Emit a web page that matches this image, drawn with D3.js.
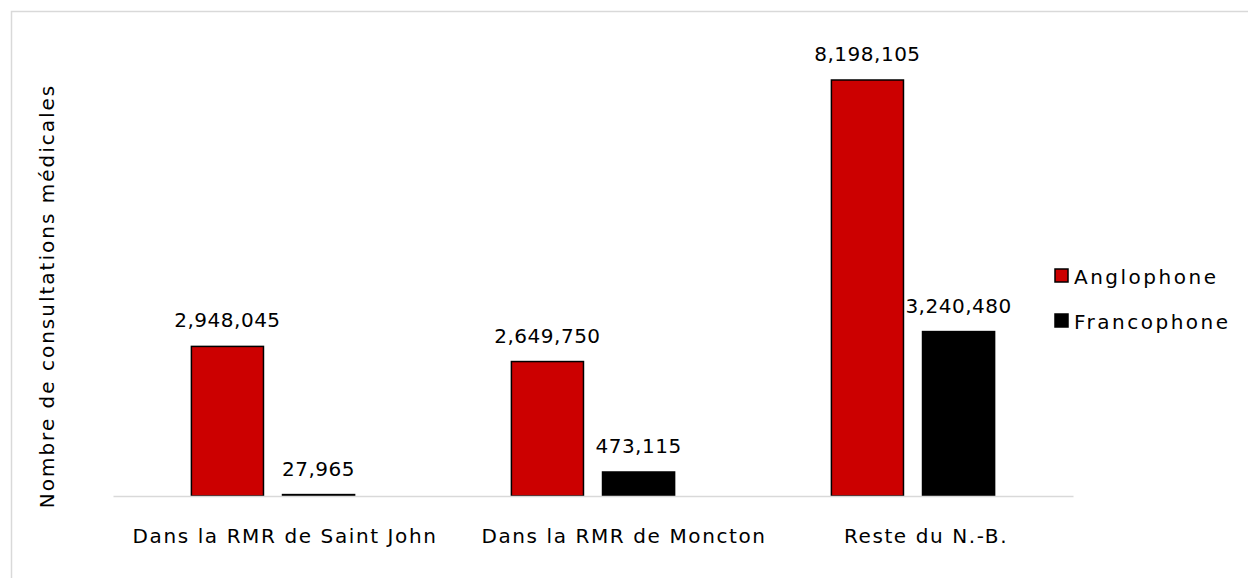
<!DOCTYPE html>
<html>
<head>
<meta charset="utf-8">
<script src="https://cdn.jsdelivr.net/npm/d3@7"></script>
<style>
	body { margin: 0; background: #fff; }
	text { font-family: "DejaVu Sans", sans-serif; fill: #000; }
</style>
</head>
<body>
<div id="wrapper"></div>
<script>
// data
const categories = ["Dans la RMR de Saint John", "Dans la RMR de Moncton", "Reste du N.-B."];
const series = ["Anglophone", "Francophone"];
const anglophone = [2948045, 2649750, 8198105];
const francophone = [27965, 473115, 3240480];
const colors = ["#cc0000", "#000000"];

const dataset = categories.map((c, i) => ({
	category: c,
	values: [anglophone[i], francophone[i]]
}));

// dimensions
const dimensions = {
	width: 1248,
	height: 578,
	margin: { top: 80, right: 175, bottom: 82, left: 113 }
};
dimensions.boundedWidth = dimensions.width - dimensions.margin.left - dimensions.margin.right;
dimensions.boundedHeight = dimensions.height - dimensions.margin.top - dimensions.margin.bottom;

const wrapper = d3.select("#wrapper")
	.append("svg")
	.attr("width", dimensions.width)
	.attr("height", dimensions.height);

// chart border
wrapper.append("rect")
	.attr("x", 11.5)
	.attr("y", 11.5)
	.attr("width", dimensions.width)
	.attr("height", dimensions.height)
	.attr("fill", "none")
	.attr("stroke", "#d9d9d9")
	.attr("stroke-width", 1.5);

const bounds = wrapper.append("g")
	.attr("transform", `translate(${dimensions.margin.left},${dimensions.margin.top})`);

// scales
const x0 = d3.scaleBand()
	.domain(categories)
	.range([0, dimensions.boundedWidth])
	.paddingInner(0.49)
	.paddingOuter(0.245);

const x1 = d3.scaleBand()
	.domain(series)
	.range([0, x0.bandwidth()])
	.paddingInner(0.209);

const yScale = d3.scaleLinear()
	.domain([0, d3.max(anglophone)])
	.range([dimensions.boundedHeight, 0]);

// bars
const groups = bounds.selectAll(".group")
	.data(dataset)
	.join("g")
	.attr("class", "group")
	.attr("transform", d => `translate(${x0(d.category)},0)`);

groups.selectAll("rect")
	.data(d => d.values.map((v, i) => ({ key: series[i], value: v, i })))
	.join("rect")
	.attr("x", d => x1(d.key))
	.attr("y", d => yScale(d.value))
	.attr("width", x1.bandwidth())
	.attr("height", d => dimensions.boundedHeight - yScale(d.value))
	.attr("fill", d => colors[d.i])
	.attr("stroke", "#000")
	.attr("stroke-width", 1.5);

const fmt = d3.format(",");
groups.selectAll(".label")
	.data(d => d.values.map((v, i) => ({ key: series[i], value: v })))
	.join("text")
	.attr("class", "label")
	.attr("x", d => x1(d.key) + x1.bandwidth() / 2)
	.attr("y", d => yScale(d.value) - 19)
	.attr("text-anchor", "middle")
	.style("font-size", "20px")
	.style("letter-spacing", "0.5px")
	.text(d => fmt(d.value));

// x axis
const labelNudge = [12, 31, 13];
const xAxis = bounds.append("g")
	.attr("transform", `translate(0,${dimensions.boundedHeight})`)
	.call(d3.axisBottom(x0).tickSize(0).tickPadding(0));
xAxis.select(".domain").attr("stroke", "#d9d9d9").attr("stroke-width", 1.5);
xAxis.selectAll(".tick text")
	.attr("dy", 0)
	.attr("y", 47)
	.attr("dx", (d, i) => labelNudge[i])
	.style("font-size", "20px")
	.style("letter-spacing", "1.6px")
	.style("font-family", "'DejaVu Sans', sans-serif");

// y axis title
wrapper.append("text")
	.attr("transform", `translate(54,296) rotate(-90)`)
	.attr("text-anchor", "middle")
	.style("font-size", "20px")
	.style("letter-spacing", "2px")
	.text("Nombre de consultations médicales");

// legend
const legend = wrapper.append("g")
	.attr("transform", "translate(1055,269)");
const legendItems = legend.selectAll("g")
	.data(series)
	.join("g")
	.attr("transform", (d, i) => `translate(0,${i * 45})`);
legendItems.append("rect")
	.attr("width", 13)
	.attr("height", 13)
	.attr("fill", (d, i) => colors[i])
	.attr("stroke", "#000")
	.attr("stroke-width", 1.5);
legendItems.append("text")
	.attr("x", 19)
	.attr("y", 15)
	.style("font-size", "20px")
	.style("letter-spacing", "2.5px")
	.text(d => d);
</script>
</body>
</html>
